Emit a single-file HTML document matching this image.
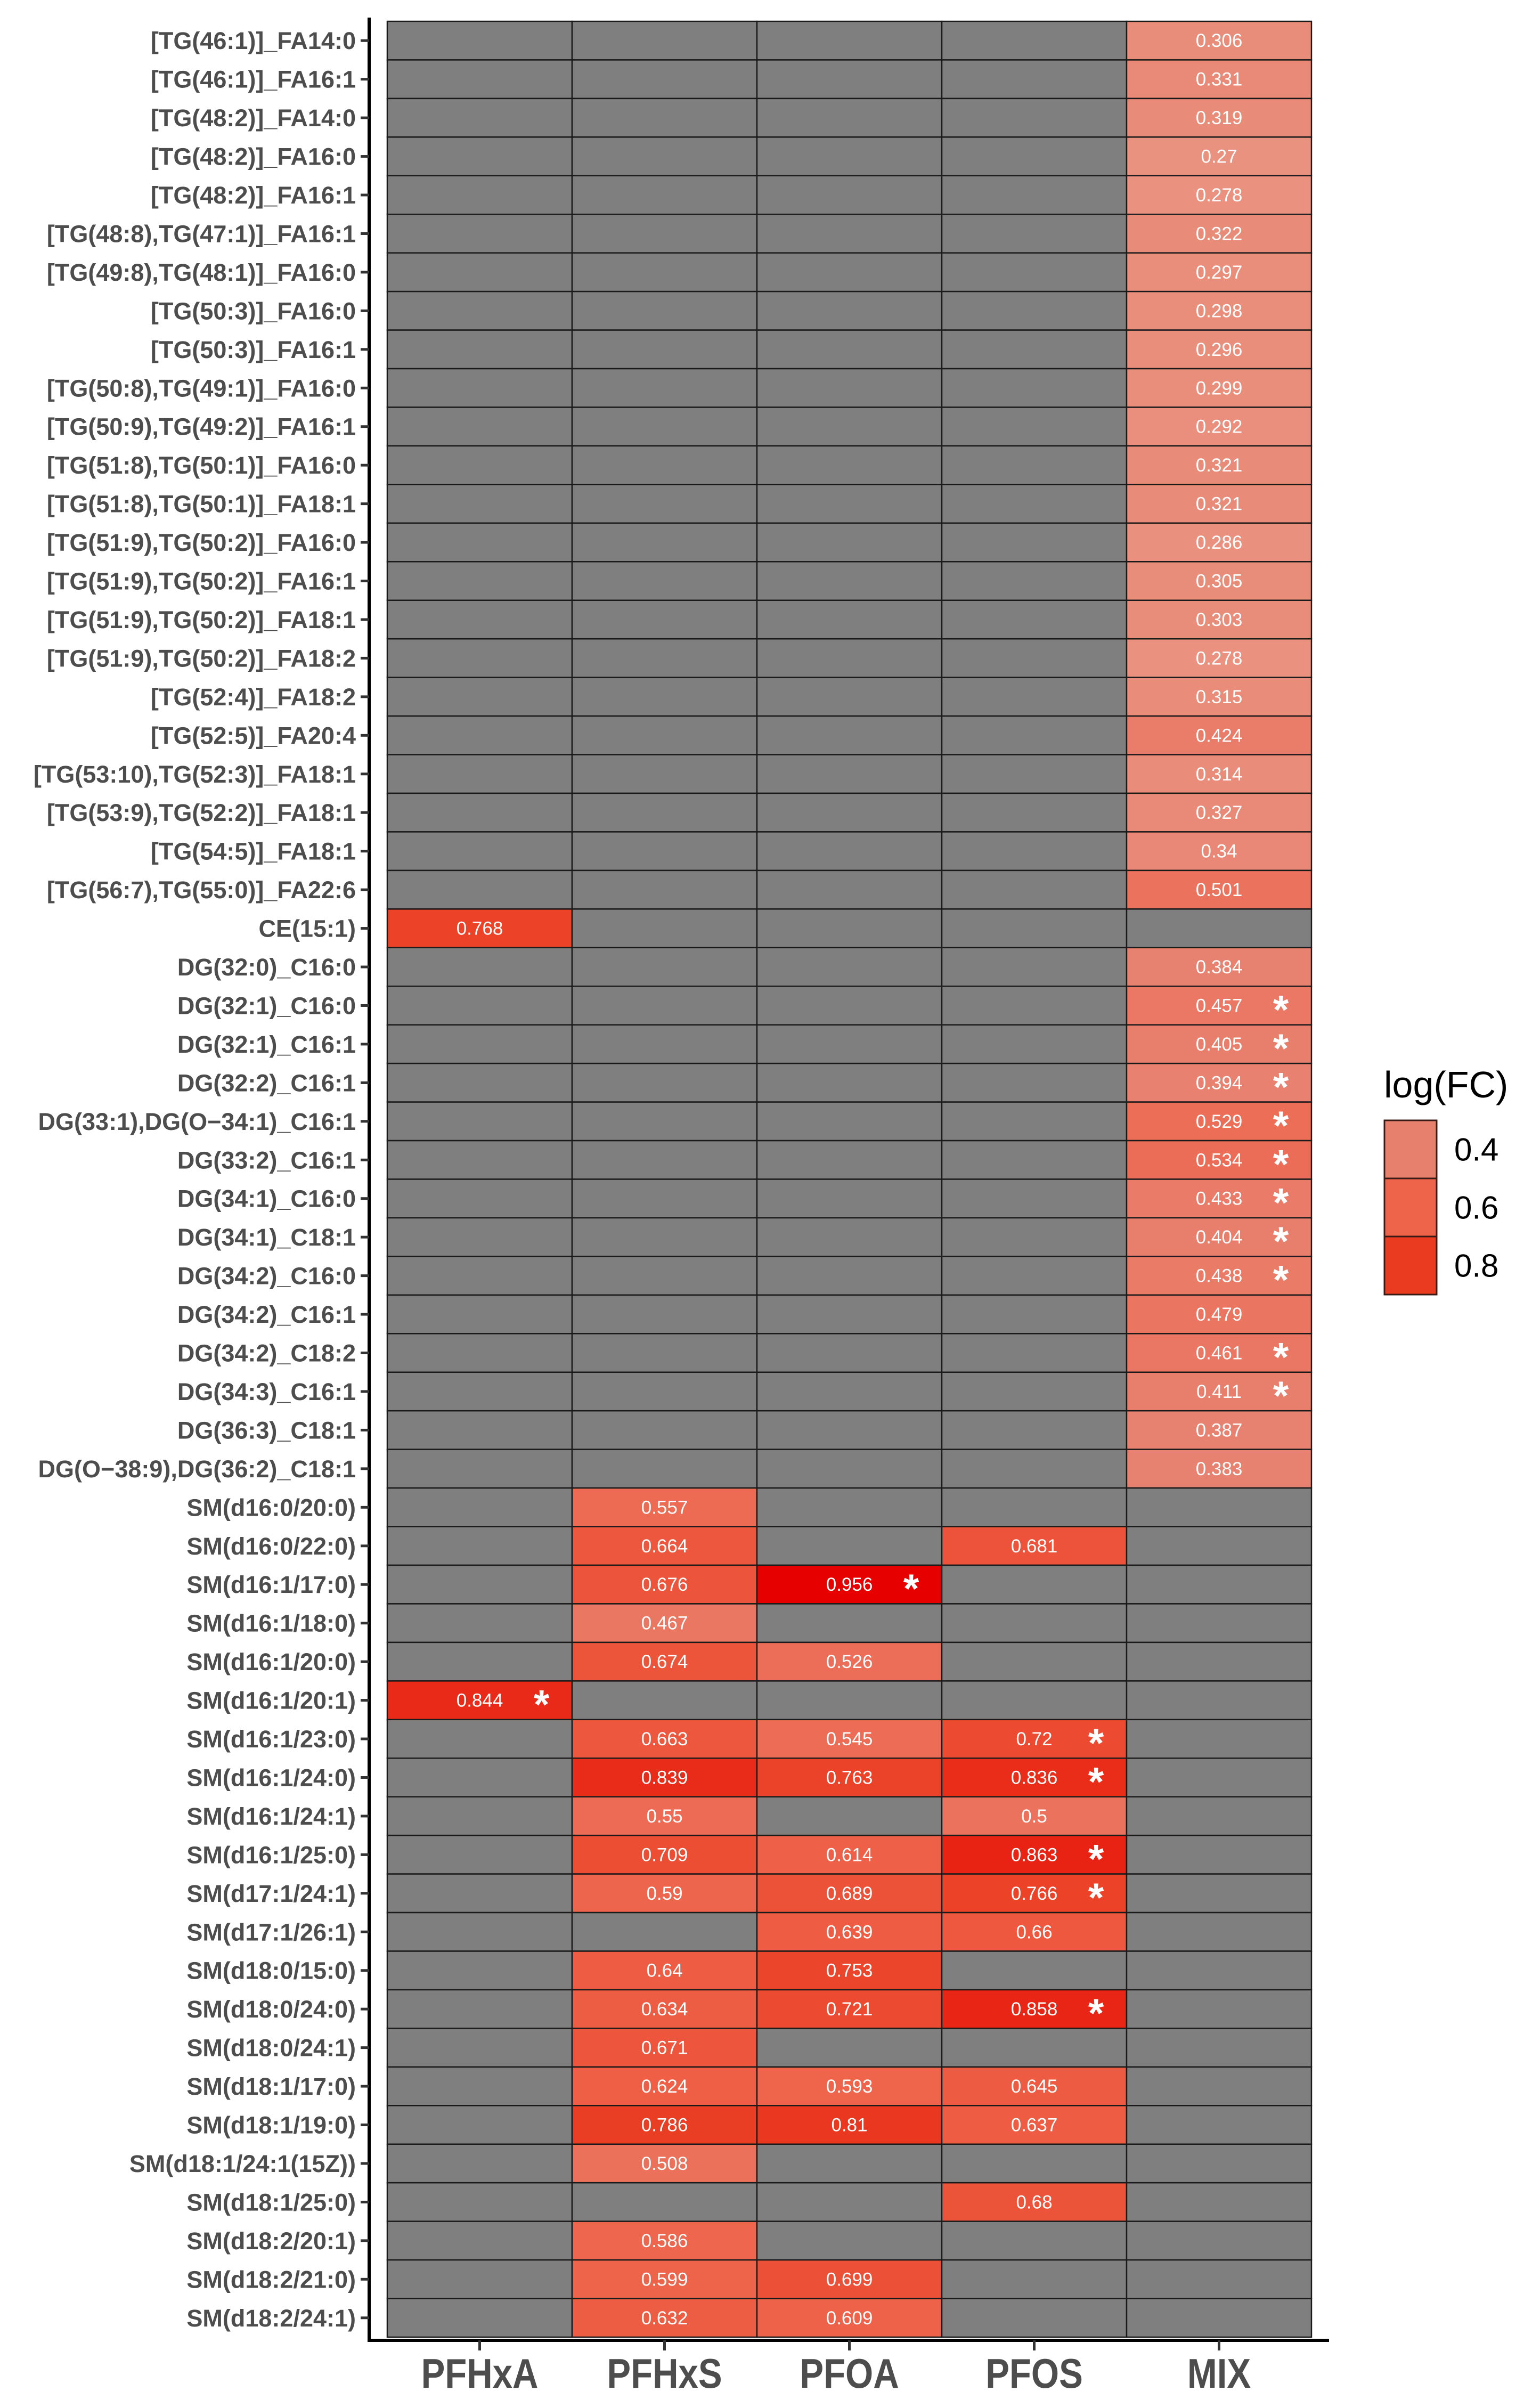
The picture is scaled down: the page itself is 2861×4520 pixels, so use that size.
<!DOCTYPE html>
<html><head><meta charset="utf-8"><style>
html,body{margin:0;padding:0;background:#fff;}
svg{display:block;}
</style></head><body>
<svg id="chart" width="2861" height="4520" viewBox="0 0 2861 4520" xmlns="http://www.w3.org/2000/svg"></svg>
<script>
const rowLabels = ["[TG(46:1)]_FA14:0","[TG(46:1)]_FA16:1","[TG(48:2)]_FA14:0","[TG(48:2)]_FA16:0","[TG(48:2)]_FA16:1","[TG(48:8),TG(47:1)]_FA16:1","[TG(49:8),TG(48:1)]_FA16:0","[TG(50:3)]_FA16:0","[TG(50:3)]_FA16:1","[TG(50:8),TG(49:1)]_FA16:0","[TG(50:9),TG(49:2)]_FA16:1","[TG(51:8),TG(50:1)]_FA16:0","[TG(51:8),TG(50:1)]_FA18:1","[TG(51:9),TG(50:2)]_FA16:0","[TG(51:9),TG(50:2)]_FA16:1","[TG(51:9),TG(50:2)]_FA18:1","[TG(51:9),TG(50:2)]_FA18:2","[TG(52:4)]_FA18:2","[TG(52:5)]_FA20:4","[TG(53:10),TG(52:3)]_FA18:1","[TG(53:9),TG(52:2)]_FA18:1","[TG(54:5)]_FA18:1","[TG(56:7),TG(55:0)]_FA22:6","CE(15:1)","DG(32:0)_C16:0","DG(32:1)_C16:0","DG(32:1)_C16:1","DG(32:2)_C16:1","DG(33:1),DG(O−34:1)_C16:1","DG(33:2)_C16:1","DG(34:1)_C16:0","DG(34:1)_C18:1","DG(34:2)_C16:0","DG(34:2)_C16:1","DG(34:2)_C18:2","DG(34:3)_C16:1","DG(36:3)_C18:1","DG(O−38:9),DG(36:2)_C18:1","SM(d16:0/20:0)","SM(d16:0/22:0)","SM(d16:1/17:0)","SM(d16:1/18:0)","SM(d16:1/20:0)","SM(d16:1/20:1)","SM(d16:1/23:0)","SM(d16:1/24:0)","SM(d16:1/24:1)","SM(d16:1/25:0)","SM(d17:1/24:1)","SM(d17:1/26:1)","SM(d18:0/15:0)","SM(d18:0/24:0)","SM(d18:0/24:1)","SM(d18:1/17:0)","SM(d18:1/19:0)","SM(d18:1/24:1(15Z))","SM(d18:1/25:0)","SM(d18:2/20:1)","SM(d18:2/21:0)","SM(d18:2/24:1)"];
const columns = ["PFHxA","PFHxS","PFOA","PFOS","MIX"];
const N = null;
const pfhxa = [N,N,N,N,N,N,N,N,N,N,N,N,N,N,N,N,N,N,N,N,N,N,N,0.768,N,N,N,N,N,N,N,N,N,N,N,N,N,N,
  N,N,N,N,N,0.844,N,N,N,N,N,N,N,N,N,N,N,N,N,N,N,N];
const pfhxs = [N,N,N,N,N,N,N,N,N,N,N,N,N,N,N,N,N,N,N,N,N,N,N,N,N,N,N,N,N,N,N,N,N,N,N,N,N,N,
  0.557,0.664,0.676,0.467,0.674,N,0.663,0.839,0.55,0.709,0.59,N,0.64,0.634,0.671,0.624,0.786,0.508,N,0.586,0.599,0.632];
const pfoa = [N,N,N,N,N,N,N,N,N,N,N,N,N,N,N,N,N,N,N,N,N,N,N,N,N,N,N,N,N,N,N,N,N,N,N,N,N,N,
  N,N,0.956,N,0.526,N,0.545,0.763,N,0.614,0.689,0.639,0.753,0.721,N,0.593,0.81,N,N,N,0.699,0.609];
const pfos = [N,N,N,N,N,N,N,N,N,N,N,N,N,N,N,N,N,N,N,N,N,N,N,N,N,N,N,N,N,N,N,N,N,N,N,N,N,N,
  N,0.681,N,N,N,N,0.72,0.836,0.5,0.863,0.766,0.66,N,0.858,N,0.645,0.637,N,0.68,N,N,N];
const mix = [0.306,0.331,0.319,0.27,0.278,0.322,0.297,0.298,0.296,0.299,0.292,0.321,0.321,0.286,0.305,0.303,0.278,0.315,0.424,0.314,0.327,0.34,0.501,N,
  0.384,0.457,0.405,0.394,0.529,0.534,0.433,0.404,0.438,0.479,0.461,0.411,0.387,0.383,
  N,N,N,N,N,N,N,N,N,N,N,N,N,N,N,N,N,N,N,N,N,N];
const sigPfhxa = [43];
const sigPfhxs = [];
const sigPfoa = [40];
const sigPfos = [44,45,47,48,51];
const sigMix = [25,26,27,28,29,30,31,32,34,35];
const legendValues = [0.4,0.6,0.8];

const series = [pfhxa,pfhxs,pfoa,pfos,mix];
const sigs = [sigPfhxa,sigPfhxs,sigPfoa,sigPfos,sigMix];
const NS = "http://www.w3.org/2000/svg";
const svg = document.getElementById('chart');
const X0 = 727, X1 = 2462, Y0 = 40, Y1 = 4387;
const colW = (X1 - X0) / columns.length;
const rowH = (Y1 - Y0) / rowLabels.length;
function xPos(c){ return X0 + c*colW; }
function yPos(r){ return Y0 + r*rowH; }
const stops = [[0.27,[234,146,128]],[0.4,[232,128,110]],[0.6,[238,100,75]],[0.8,[234,59,33]],[0.956,[230,0,0]]];
function color(v){
  if (v <= stops[0][0]) return 'rgb('+stops[0][1].join(',')+')';
  for (let i=1;i<stops.length;i++){
    if (v <= stops[i][0]){
      const t=(v-stops[i-1][0])/(stops[i][0]-stops[i-1][0]);
      const a=stops[i-1][1], b=stops[i][1];
      return 'rgb('+a.map((x,k)=>Math.round(x+(b[k]-x)*t)).join(',')+')';
    }
  }
  return 'rgb(230,0,0)';
}
function mk(tag, attrs, parent){
  const e = document.createElementNS(NS, tag);
  for (const k in attrs) e.setAttribute(k, attrs[k]);
  (parent||svg).appendChild(e);
  return e;
}
const cells = mk('g', {});


for (let c=0;c<columns.length;c++){
  for (let r=0;r<rowLabels.length;r++){
    const v = series[c][r];
    const rect = mk('rect', {x:xPos(c), y:yPos(r), width:colW, height:rowH, fill: v===null ? '#7f7f7f' : color(v), stroke:'#1a1a1a', 'stroke-width':2.5}, cells);
    
    
    if (v !== null){
      const t = mk('text', {x:xPos(c)+colW/2, y:yPos(r)+rowH/2+12, 'text-anchor':'middle', fill:'#fff', 'font-size':35, 'font-family':'Liberation Sans, sans-serif'}, cells);
      t.textContent = String(v);
      
      
      if (sigs[c].indexOf(r) >= 0){
        const s = mk('text', {x:xPos(c)+colW/2+116, y:yPos(r)+rowH/2+34, 'text-anchor':'middle', fill:'#fff', 'font-size':76, 'font-weight':'bold', 'font-family':'Liberation Sans, sans-serif'}, cells);
        s.textContent = '*';
        
        
      }
    }
  }
}
const ax = mk('line', {x1:693, y1:33, x2:693, y2:4396, stroke:'#000', 'stroke-width':6});


const axx = mk('line', {x1:690, y1:4393, x2:2495, y2:4393, stroke:'#000', 'stroke-width':6});


for (let r=0;r<rowLabels.length;r++){
  const cy = yPos(r)+rowH/2;
  const tk = mk('line', {x1:677, y1:cy, x2:693, y2:cy, stroke:'#333', 'stroke-width':5});
  
  
  const t = mk('text', {x:668, y:cy+16, 'text-anchor':'end', fill:'#4d4d4d', 'font-size':45, 'font-weight':'bold', 'font-family':'Liberation Sans, sans-serif'});
  t.textContent = rowLabels[r];
  
  
}
for (let c=0;c<columns.length;c++){
  const cx = xPos(c)+colW/2;
  const tk = mk('line', {x1:cx, y1:4393, x2:cx, y2:4412, stroke:'#333', 'stroke-width':5});
  
  
  const t = mk('text', {x:0, y:0, 'text-anchor':'middle', fill:'#4d4d4d', 'font-size':78, 'font-weight':'bold', 'font-family':'Liberation Sans, sans-serif', transform:'translate('+cx+',4482) scale(0.86,1)'});
  t.textContent = columns[c];
  
  
}
const lg = mk('g', {});


const lt = mk('text', {x:2598, y:2060, fill:'#000', 'font-size':70, 'font-family':'Liberation Sans, sans-serif'}, lg);
lt.textContent = 'log(FC)';


const lbH = (2430-2103)/legendValues.length;
for (let i=0;i<legendValues.length;i++){
  const r = mk('rect', {x:2599, y:2103+i*lbH, width:98, height:lbH, fill:color(legendValues[i]), stroke:'#3a1a14', 'stroke-width':3}, lg);
  
  
  const t = mk('text', {x:2730, y:2103+i*lbH+lbH/2+21, fill:'#000', 'font-size':60, 'font-family':'Liberation Sans, sans-serif'}, lg);
  t.textContent = String(legendValues[i]);
  
  
}
</script>
</body></html>
